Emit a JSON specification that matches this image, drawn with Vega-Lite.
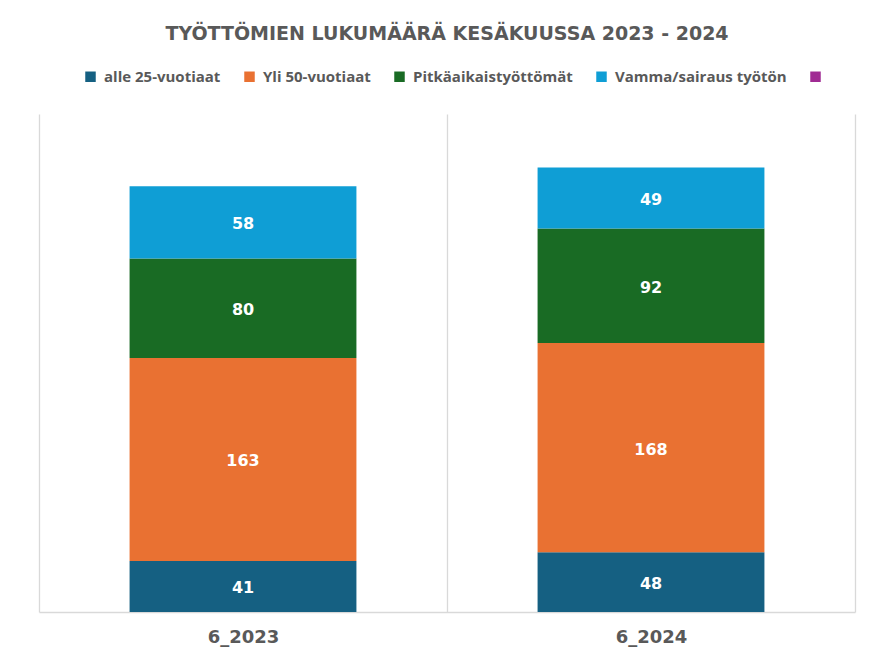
{
  "$schema": "https://vega.github.io/schema/vega-lite/v6.json",
  "width": 816,
  "height": 498,
  "autosize": {"type": "none"},
  "padding": {"left": 39, "top": 114, "right": 15, "bottom": 48},
  "background": "white",
  "title": {
    "text": "TYÖTTÖMIEN LUKUMÄÄRÄ KESÄKUUSSA 2023 - 2024",
    "anchor": "middle",
    "font": "DejaVu Sans",
    "fontSize": 19,
    "fontWeight": "bold",
    "color": "#595959",
    "offset": 25,
    "frame": "group"
  },
  "config": {"view": {"stroke": null}},
  "data": {
    "values": [
      {"kuukausi": "6_2023", "sarja": "alle 25-vuotiaat", "jarjestys": 1, "lukumaara": 41},
      {"kuukausi": "6_2023", "sarja": "Yli 50-vuotiaat", "jarjestys": 2, "lukumaara": 163},
      {"kuukausi": "6_2023", "sarja": "Pitkäaikaistyöttömät", "jarjestys": 3, "lukumaara": 80},
      {"kuukausi": "6_2023", "sarja": "Vamma/sairaus työtön", "jarjestys": 4, "lukumaara": 58},
      {"kuukausi": "6_2024", "sarja": "alle 25-vuotiaat", "jarjestys": 1, "lukumaara": 48},
      {"kuukausi": "6_2024", "sarja": "Yli 50-vuotiaat", "jarjestys": 2, "lukumaara": 168},
      {"kuukausi": "6_2024", "sarja": "Pitkäaikaistyöttömät", "jarjestys": 3, "lukumaara": 92},
      {"kuukausi": "6_2024", "sarja": "Vamma/sairaus työtön", "jarjestys": 4, "lukumaara": 49}
    ]
  },
  "encoding": {
    "x": {
      "field": "kuukausi",
      "type": "nominal",
      "sort": null,
      "scale": {"paddingInner": 0, "paddingOuter": 0},
      "axis": {
        "title": null,
        "labelAngle": 0,
        "labelFont": "DejaVu Sans",
        "labelFontSize": 18,
        "labelFontWeight": "bold",
        "labelColor": "#595959",
        "labelPadding": 16,
        "ticks": false,
        "grid": true,
        "tickBand": "extent",
        "gridColor": "#d9d9d9",
        "gridWidth": 1.3,
        "domainColor": "#d9d9d9",
        "domainWidth": 1.3
      }
    },
    "y": {
      "field": "lukumaara",
      "type": "quantitative",
      "stack": "zero",
      "scale": {"domain": [0, 400], "nice": false},
      "axis": null
    },
    "order": {"field": "jarjestys", "type": "quantitative"}
  },
  "layer": [
    {
      "mark": {"type": "bar", "width": {"band": 0.556}},
      "encoding": {
        "color": {
          "field": "sarja",
          "type": "nominal",
          "scale": {
            "domain": ["alle 25-vuotiaat", "Yli 50-vuotiaat", "Pitkäaikaistyöttömät", "Vamma/sairaus työtön", " "],
            "range": ["#156082", "#E97132", "#196B24", "#0F9ED5", "#A02B93"]
          },
          "legend": {
            "orient": "none",
            "legendX": 44,
            "legendY": -45,
            "direction": "horizontal",
            "title": null,
            "symbolType": "square",
            "symbolSize": 110,
            "symbolStrokeWidth": 0,
            "symbolOpacity": 1,
            "labelFont": "Open Sans",
            "labelFontSize": 15,
            "labelFontWeight": "bold",
            "labelColor": "#595959",
            "labelOffset": 6,
            "labelLimit": 400,
            "columnPadding": 21
          }
        }
      }
    },
    {
      "mark": {"type": "text", "font": "DejaVu Sans", "fontSize": 16, "fontWeight": "bold", "color": "white", "baseline": "middle", "dy": 2},
      "encoding": {
        "y": {"field": "lukumaara", "type": "quantitative", "stack": "zero", "bandPosition": 0.5},
        "detail": {"field": "sarja"},
        "text": {"field": "lukumaara", "type": "quantitative"}
      }
    }
  ]
}
